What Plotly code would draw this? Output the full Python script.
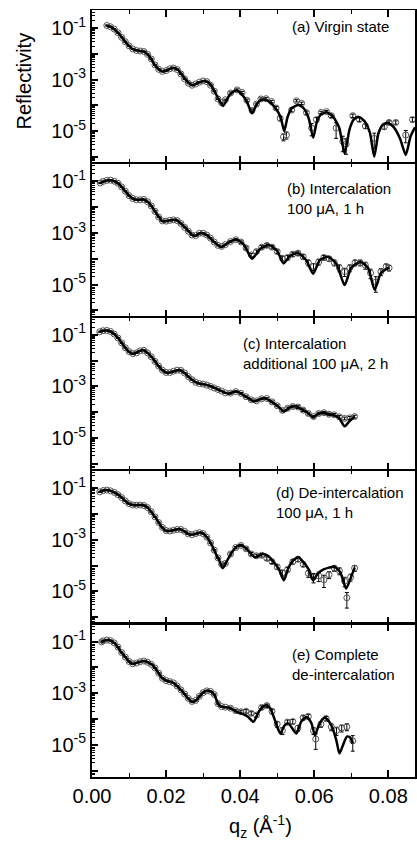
import plotly.graph_objects as go
from plotly.subplots import make_subplots

# ---------------- data (log10 reflectivity) ----------------
panel_labels = ["(a) Virgin state",
                "(b) Intercalation<br>100 μA, 1 h",
                "(c) Intercalation<br>additional 100 μA, 2 h",
                "(d) De-intercalation<br>100 μA, 1 h",
                "(e) Complete<br>de-intercalation"]

# ----- panel (a)
fit_q_a = [0.0039, 0.0050, 0.0060, 0.0075, 0.0093, 0.0110, 0.0129, 0.0142, 0.0155, 0.0173, 0.0191, 0.0205, 0.0218,
           0.0232, 0.0254, 0.0271, 0.0287, 0.0303, 0.0318, 0.0334, 0.0354, 0.0372, 0.0389, 0.0405, 0.0418, 0.0432,
           0.0445, 0.0455, 0.0466, 0.0480, 0.0500, 0.0510, 0.0519, 0.0528, 0.0540, 0.0557, 0.0572, 0.0585, 0.0597,
           0.0607, 0.0618, 0.0633, 0.0650, 0.0667, 0.0682, 0.0695, 0.0705, 0.0718, 0.0735, 0.0750, 0.0762, 0.0773,
           0.0785, 0.0798, 0.0815, 0.0832, 0.0847, 0.0860, 0.0872]
fit_lr_a = [-0.91, -0.95, -1.05, -1.26, -1.59, -1.82, -1.89, -1.92, -2.10, -2.50, -2.69, -2.62, -2.54,
            -2.62, -3.02, -3.22, -3.12, -3.05, -3.15, -3.54, -4.02, -3.58, -3.41, -3.58, -3.85, -4.31,
            -3.95, -3.80, -3.77, -3.88, -4.20, -4.50, -5.00, -4.45, -4.10, -3.98, -4.12, -4.50, -5.25,
            -4.65, -4.35, -4.27, -4.42, -4.85, -5.86, -4.95, -4.58, -4.44, -4.60, -5.05, -5.99, -5.10,
            -4.75, -4.67, -4.85, -5.30, -5.92, -5.20, -4.85]
dat_q_a = [0.004, 0.005, 0.006, 0.007, 0.008, 0.009, 0.010, 0.011, 0.012, 0.013, 0.014, 0.015, 0.016, 0.017,
           0.018, 0.019, 0.020, 0.021, 0.022, 0.023, 0.024, 0.025, 0.026, 0.027, 0.028, 0.029, 0.030, 0.031,
           0.032, 0.033, 0.034, 0.035, 0.036, 0.0374, 0.0392, 0.0405, 0.0418, 0.0432, 0.0444, 0.0456, 0.0470,
           0.0485, 0.0497, 0.0508, 0.0517, 0.0525, 0.0539, 0.0552, 0.0566, 0.0579, 0.0593, 0.0606, 0.0619,
           0.0633, 0.0646, 0.0659, 0.0677, 0.0686, 0.0704, 0.0722, 0.0738, 0.0762, 0.0789, 0.0802, 0.0820,
           0.0847, 0.0865]
dat_lr_a = [-0.90, -0.95, -1.04, -1.18, -1.36, -1.53, -1.69, -1.81, -1.87, -1.89, -1.91, -2.02, -2.20, -2.43,
            -2.60, -2.68, -2.65, -2.58, -2.55, -2.61, -2.78, -2.97, -3.14, -3.22, -3.17, -3.10, -3.05, -3.08,
            -3.22, -3.45, -3.75, -3.90, -3.78, -3.52, -3.40, -3.50, -3.80, -4.20, -3.95, -3.75, -3.74,
            -3.85, -4.10, -4.50, -5.22, -5.15, -4.18, -3.82, -3.92, -4.28, -4.88, -4.55, -4.27,
            -4.24, -4.40, -4.88, -5.40, -5.50, -4.40, -4.55, -4.80, -5.28, -4.83, -4.66, -4.66,
            -5.15, -4.55]
dat_e_a = [0.05] * 33 + [0.1, 0.1, 0.1, 0.1, 0.15, 0.1, 0.1, 0.1, 0.1, 0.15, 0.2, 0.3, 0.3, 0.15, 0.1, 0.1,
                         0.15, 0.5, 0.2, 0.1, 0.1, 0.15, 0.6, 0.6, 0.6, 0.15, 0.15, 0.2, 0.6, 0.2, 0.15, 0.15,
                         0.5, 0.2]

# ----- panel (b)
fit_q_b = [0.0022, 0.0035, 0.0048, 0.0060, 0.0075, 0.0090, 0.0102, 0.0115, 0.0128, 0.0140, 0.0155, 0.0173,
           0.0191, 0.0209, 0.0227, 0.0249, 0.0276, 0.0294, 0.0310, 0.0330, 0.0349, 0.0370, 0.0390, 0.0410,
           0.0432, 0.0455, 0.0478, 0.0500, 0.0517, 0.0535, 0.0557, 0.0578, 0.0597, 0.0615, 0.0637, 0.0660,
           0.0682, 0.0700, 0.0725, 0.0745, 0.0763, 0.0780, 0.0802]
fit_lr_b = [-1.07, -0.98, -0.95, -0.99, -1.13, -1.38, -1.58, -1.70, -1.71, -1.70, -1.85, -2.22,
            -2.55, -2.51, -2.49, -2.75, -3.12, -3.00, -3.08, -3.35, -3.55, -3.35, -3.25, -3.45,
            -4.00, -3.60, -3.47, -3.70, -4.18, -3.88, -3.78, -4.05, -4.58, -4.05, -3.92, -4.20,
            -5.02, -4.35, -4.12, -4.35, -5.20, -4.55, -4.33]
dat_q_b = [0.0022, 0.003, 0.004, 0.005, 0.006, 0.007, 0.008, 0.009, 0.010, 0.011, 0.012, 0.013, 0.014, 0.015,
           0.016, 0.017, 0.018, 0.019, 0.020, 0.021, 0.022, 0.023, 0.024, 0.025, 0.026, 0.027, 0.028, 0.029,
           0.030, 0.031, 0.032, 0.033, 0.034, 0.035, 0.036, 0.0374, 0.0388, 0.0402, 0.0416, 0.0430, 0.0444,
           0.0458, 0.0472, 0.0486, 0.0500, 0.0514, 0.0528, 0.0542, 0.0556, 0.0570, 0.0584, 0.0598, 0.0612,
           0.0626, 0.0640, 0.0654, 0.0668, 0.0682, 0.0696, 0.0710, 0.0724, 0.0738, 0.0752, 0.0766, 0.0780,
           0.0794, 0.0802]
dat_lr_b = [-1.06, -1.00, -0.96, -0.95, -0.99, -1.07, -1.21, -1.38, -1.55, -1.66, -1.71, -1.71, -1.70, -1.79,
            -1.95, -2.16, -2.38, -2.53, -2.54, -2.51, -2.49, -2.52, -2.63, -2.78, -2.93, -3.08, -3.10, -3.01,
            -3.01, -3.08, -3.20, -3.35, -3.48, -3.52, -3.45, -3.33, -3.26, -3.35, -3.58, -3.85, -3.72,
            -3.55, -3.48, -3.55, -3.72, -3.98, -3.95, -3.82, -3.78, -3.92, -4.15, -4.30, -4.12,
            -3.95, -4.00, -4.15, -4.35, -4.50, -4.35, -4.15, -4.15, -4.25, -4.55, -4.90, -4.50,
            -4.30, -4.35]
dat_e_b = [0.05] * 35 + [0.1, 0.1, 0.1, 0.1, 0.15, 0.15, 0.15, 0.15, 0.15, 0.15, 0.2, 0.2, 0.2, 0.2, 0.2,
                         0.25, 0.3, 0.25, 0.2, 0.2, 0.25, 0.3, 0.35, 0.3, 0.25, 0.25, 0.3, 0.4, 0.6, 0.3,
                         0.25, 0.25]

# ----- panel (c)
fit_q_c = [0.0021, 0.0030, 0.0040, 0.0050, 0.0060, 0.0072, 0.0084, 0.0097, 0.0111, 0.0125, 0.0138, 0.0150,
           0.0164, 0.0178, 0.0191, 0.0204, 0.0220, 0.0236, 0.0250, 0.0263, 0.0278, 0.0289, 0.0303, 0.0316,
           0.0330, 0.0345, 0.0358, 0.0369, 0.0382, 0.0396, 0.0410, 0.0425, 0.0436, 0.0450, 0.0465, 0.0480,
           0.0500, 0.0518, 0.0535, 0.0550, 0.0565, 0.0582, 0.0597, 0.0610, 0.0624, 0.0640, 0.0655, 0.0668,
           0.0682, 0.0695, 0.0709]
fit_lr_c = [-0.88, -0.84, -0.83, -0.87, -0.97, -1.15, -1.39, -1.62, -1.74, -1.65, -1.59, -1.70,
            -1.91, -2.18, -2.38, -2.48, -2.42, -2.36, -2.48, -2.66, -2.82, -2.89, -2.92, -2.97,
            -3.05, -3.15, -3.24, -3.28, -3.22, -3.22, -3.35, -3.48, -3.58, -3.52, -3.46, -3.55,
            -3.75, -3.97, -3.80, -3.77, -3.88, -4.02, -4.20, -4.07, -4.02, -4.08, -4.12, -4.25,
            -4.55, -4.35, -4.18]
dat_q_c = [0.0021, 0.003, 0.004, 0.005, 0.006, 0.007, 0.008, 0.009, 0.010, 0.011, 0.012, 0.013, 0.014, 0.015,
           0.016, 0.017, 0.018, 0.019, 0.020, 0.021, 0.022, 0.023, 0.024, 0.025, 0.026, 0.027, 0.028, 0.029,
           0.030, 0.031, 0.032, 0.033, 0.034, 0.035, 0.036, 0.0374, 0.0388, 0.0402, 0.0416, 0.0430, 0.0444,
           0.0458, 0.0472, 0.0486, 0.0500, 0.0514, 0.0528, 0.0542, 0.0556, 0.0570, 0.0584, 0.0598, 0.0612,
           0.0626, 0.0640, 0.0654, 0.0668, 0.0682, 0.0696, 0.0709]
dat_lr_c = [-0.88, -0.84, -0.83, -0.87, -0.97, -1.12, -1.31, -1.50, -1.65, -1.73, -1.70, -1.62, -1.60, -1.70,
            -1.85, -2.03, -2.21, -2.37, -2.46, -2.46, -2.41, -2.37, -2.38, -2.48, -2.62, -2.74, -2.84, -2.89,
            -2.91, -2.95, -3.00, -3.06, -3.12, -3.18, -3.25, -3.26, -3.20, -3.27, -3.40, -3.52, -3.56,
            -3.48, -3.47, -3.60, -3.75, -3.93, -3.85, -3.78, -3.80, -3.92, -4.05, -4.17, -4.05,
            -4.02, -4.08, -4.10, -4.18, -4.24, -4.22, -4.17]
dat_e_c = [0.05] * 35 + [0.08] * 10 + [0.12] * 15

# ----- panel (d)
fit_q_d = [0.0021, 0.0030, 0.0039, 0.0050, 0.0066, 0.0080, 0.0093, 0.0105, 0.0115, 0.0127, 0.0138, 0.0150,
           0.0160, 0.0172, 0.0182, 0.0191, 0.0200, 0.0215, 0.0236, 0.0250, 0.0263, 0.0278, 0.0294, 0.0305,
           0.0316, 0.0325, 0.0334, 0.0345, 0.0353, 0.0365, 0.0379, 0.0392, 0.0401, 0.0415, 0.0430, 0.0440,
           0.0450, 0.0460, 0.0475, 0.0490, 0.0505, 0.0518, 0.0530, 0.0543, 0.0557, 0.0570, 0.0585, 0.0597,
           0.0610, 0.0625, 0.0640, 0.0655, 0.0670, 0.0686, 0.0698, 0.0709]
fit_lr_d = [-1.14, -1.09, -1.07, -1.10, -1.21, -1.36, -1.53, -1.63, -1.66, -1.65, -1.65, -1.75,
            -1.92, -2.15, -2.37, -2.55, -2.66, -2.64, -2.58, -2.68, -2.80, -2.78, -2.72, -2.82,
            -3.02, -3.25, -3.53, -3.85, -4.10, -3.80, -3.45, -3.25, -3.20, -3.32, -3.55, -3.68,
            -3.62, -3.55, -3.62, -3.85, -4.15, -4.57, -4.10, -3.80, -3.68, -3.85, -4.15, -4.57,
            -4.30, -4.15, -4.08, -4.05, -4.25, -4.89, -4.50, -4.08]
dat_q_d = [0.0021, 0.003, 0.004, 0.005, 0.006, 0.007, 0.008, 0.009, 0.010, 0.011, 0.012, 0.013, 0.014, 0.015,
           0.016, 0.017, 0.018, 0.019, 0.020, 0.021, 0.022, 0.023, 0.024, 0.025, 0.026, 0.027, 0.028, 0.029,
           0.030, 0.031, 0.032, 0.033, 0.034, 0.035, 0.036, 0.0374, 0.0388, 0.0402, 0.0416, 0.0430, 0.0444,
           0.0458, 0.0472, 0.0486, 0.0500, 0.0514, 0.0528, 0.0542, 0.0556, 0.0570, 0.0584, 0.0598, 0.0612,
           0.0626, 0.0640, 0.0654, 0.0668, 0.0682, 0.0688, 0.0698, 0.0709]
dat_lr_d = [-1.14, -1.09, -1.07, -1.10, -1.16, -1.25, -1.36, -1.49, -1.60, -1.65, -1.66, -1.65, -1.67, -1.75,
            -1.91, -2.11, -2.33, -2.52, -2.64, -2.66, -2.63, -2.60, -2.60, -2.67, -2.77, -2.80, -2.76, -2.72,
            -2.76, -2.90, -3.12, -3.40, -3.70, -3.95, -3.92, -3.55, -3.30, -3.22, -3.35, -3.55, -3.62,
            -3.60, -3.72, -3.85, -4.05, -4.28, -4.15, -3.85, -3.75, -3.95, -4.30, -4.45, -4.40,
            -4.55, -4.35, -4.10, -4.20, -4.60, -5.25, -4.45, -4.10]
dat_e_d = [0.05] * 35 + [0.1, 0.1, 0.1, 0.1, 0.15, 0.15, 0.15, 0.15, 0.15, 0.2, 0.25, 0.2, 0.2, 0.2, 0.2,
                         0.3, 0.4, 0.4, 0.5, 0.3, 0.25, 0.3, 0.4, 0.6, 0.3, 0.25]

# ----- panel (e)
fit_q_e = [0.0026, 0.0035, 0.0045, 0.0055, 0.0065, 0.0075, 0.0084, 0.0093, 0.0102, 0.0110, 0.0125, 0.0142,
           0.0155, 0.0164, 0.0175, 0.0187, 0.0196, 0.0204, 0.0213, 0.0222, 0.0235, 0.0245, 0.0258, 0.0271,
           0.0283, 0.0294, 0.0305, 0.0314, 0.0322, 0.0330, 0.0337, 0.0343, 0.0352, 0.0370, 0.0390, 0.0405,
           0.0420, 0.0436, 0.0450, 0.0462, 0.0472, 0.0482, 0.0495, 0.0508, 0.0520, 0.0530, 0.0540, 0.0552,
           0.0565, 0.0579, 0.0592, 0.0602, 0.0612, 0.0624, 0.0633, 0.0648, 0.0660, 0.0668, 0.0678, 0.0688,
           0.0697, 0.0704]
fit_lr_e = [-1.01, -0.95, -0.94, -1.00, -1.12, -1.33, -1.50, -1.65, -1.80, -1.87, -1.80, -1.75,
            -1.83, -1.91, -2.12, -2.37, -2.48, -2.53, -2.56, -2.62, -2.80, -2.95, -3.18, -3.34,
            -3.25, -3.06, -2.93, -2.90, -2.95, -3.05, -3.30, -3.47, -3.53, -3.56, -3.72, -3.79,
            -3.90, -4.11, -3.72, -3.52, -3.47, -3.60, -4.10, -4.56, -4.25, -4.17, -4.35, -4.56,
            -4.10, -3.92, -4.15, -4.63, -4.25, -3.98, -3.98, -4.30, -4.85, -5.34, -5.00, -4.68,
            -4.72, -4.95]
dat_q_e = [0.0026, 0.003, 0.004, 0.005, 0.006, 0.007, 0.008, 0.009, 0.010, 0.011, 0.012, 0.013, 0.014, 0.015,
           0.016, 0.017, 0.018, 0.019, 0.020, 0.021, 0.022, 0.023, 0.024, 0.025, 0.026, 0.027, 0.028, 0.029,
           0.030, 0.031, 0.032, 0.033, 0.034, 0.035, 0.036, 0.0374, 0.0388, 0.0402, 0.0416, 0.0430, 0.0444,
           0.0458, 0.0472, 0.0486, 0.0500, 0.0514, 0.0528, 0.0542, 0.0556, 0.0570, 0.0584, 0.0598, 0.0604,
           0.0618, 0.0632, 0.0646, 0.0660, 0.0674, 0.0688, 0.0704]
dat_lr_e = [-1.01, -0.97, -0.94, -0.96, -1.05, -1.21, -1.42, -1.60, -1.77, -1.86, -1.83, -1.78, -1.75, -1.80,
            -1.88, -2.02, -2.22, -2.42, -2.51, -2.55, -2.60, -2.72, -2.87, -3.03, -3.20, -3.32, -3.28, -3.12,
            -2.98, -2.91, -2.93, -3.05, -3.40, -3.52, -3.54, -3.58, -3.68, -3.72, -3.70, -3.78, -3.85,
            -3.55, -3.48, -3.70, -4.20, -4.45, -4.12, -4.10, -4.35, -3.95, -3.90, -4.45, -4.78,
            -4.20, -3.98, -4.30, -4.45, -4.35, -4.30, -4.85]
dat_e_e = [0.05] * 35 + [0.1, 0.1, 0.15, 0.15, 0.15, 0.15, 0.15, 0.15, 0.2, 0.25, 0.3, 0.2, 0.2, 0.25, 0.2,
                         0.2, 0.3, 0.6, 0.25, 0.2, 0.3, 0.35, 0.3, 0.3, 0.6]

fits = [(fit_q_a, fit_lr_a), (fit_q_b, fit_lr_b), (fit_q_c, fit_lr_c), (fit_q_d, fit_lr_d), (fit_q_e, fit_lr_e)]
datas = [(dat_q_a, dat_lr_a, dat_e_a), (dat_q_b, dat_lr_b, dat_e_b), (dat_q_c, dat_lr_c, dat_e_c),
         (dat_q_d, dat_lr_d, dat_e_d), (dat_q_e, dat_lr_e, dat_e_e)]

y_tickvals = [1e-1, 1e-2, 1e-3, 1e-4, 1e-5, 1e-6]
y_ticktext = ["10<sup>-1</sup>", " ", "10<sup>-3</sup>", " ", "10<sup>-5</sup>", " "]
x_tickvals = [0.00, 0.02, 0.04, 0.06, 0.08]
x_ticktext = ["0.00", "0.02", "0.04", "0.06", "0.08"]

FONT = "Arial, 'Liberation Sans', sans-serif"

fig = make_subplots(rows=5, cols=1, shared_xaxes=True, vertical_spacing=0)

for i in range(5):
    dq, dlr, de = datas[i]
    R = [10 ** v for v in dlr]
    err = [r * e for r, e in zip(R, de)]
    fig.add_trace(go.Scatter(
        x=dq, y=R, mode="markers",
        marker=dict(symbol="circle-open", size=6, color="#555555", line=dict(width=1)),
        error_y=dict(type="data", array=err, visible=True, color="black", thickness=1, width=2),
        showlegend=False), row=i + 1, col=1)
    fq, flr = fits[i]
    fig.add_trace(go.Scatter(
        x=fq, y=[10 ** v for v in flr], mode="lines",
        line=dict(color="black", width=2.5, shape="spline", smoothing=0.6),
        showlegend=False), row=i + 1, col=1)

for i in range(5):
    bottom = (i == 4)
    fig.update_yaxes(type="log", range=[-6.25, -0.3], tickmode="array", tickvals=y_tickvals,
                     ticktext=y_ticktext, ticks="inside", ticklen=6, tickwidth=1.5, tickcolor="black",
                     showline=True, linewidth=2, linecolor="black", mirror=True,
                     showgrid=False, zeroline=False,
                     minor=dict(ticks="inside", ticklen=3, tickwidth=1, tickcolor="black", dtick="D1",
                                showgrid=False),
                     tickfont=dict(family=FONT, size=20, color="black"),
                     row=i + 1, col=1)
    fig.update_xaxes(range=[0, 0.0872], tickmode="array", tickvals=x_tickvals, ticktext=x_ticktext,
                     ticks="inside", ticklen=7, tickwidth=1.5, tickcolor="black",
                     showline=True, linewidth=(2 if bottom else 1.1), linecolor="black", mirror="ticks",
                     showgrid=False, zeroline=False,
                     minor=dict(ticks="inside", ticklen=4, tickwidth=1.2, tickcolor="black",
                                tickvals=[0.01, 0.03, 0.05, 0.07], showgrid=False),
                     showticklabels=bottom,
                     tickfont=dict(family=FONT, size=20, color="black"),
                     row=i + 1, col=1)

annotations = [
    dict(text="Reflectivity", x=-0.209, y=0.9074, xref="paper", yref="paper", textangle=-90,
         showarrow=False, xanchor="center", yanchor="middle", font=dict(family=FONT, size=20, color="black")),
    dict(text="q<sub>z</sub> (Å<sup>-1</sup>)", x=0.523, y=-0.064, xref="paper", yref="paper",
         showarrow=False, xanchor="center", yanchor="middle", font=dict(family=FONT, size=20, color="black")),
    dict(text=panel_labels[0], x=0.926, y=0.978, xref="paper", yref="paper", showarrow=False,
         xanchor="right", yanchor="middle", font=dict(family=FONT, size=15, color="black")),
    dict(text=panel_labels[1], x=0.597, y=0.7536, xref="paper", yref="paper", showarrow=False, align="left",
         xanchor="left", yanchor="middle", font=dict(family=FONT, size=15, color="black")),
    dict(text=panel_labels[2], x=0.4615, y=0.552, xref="paper", yref="paper", showarrow=False, align="left",
         xanchor="left", yanchor="middle", font=dict(family=FONT, size=15, color="black")),
    dict(text=panel_labels[3], x=0.563, y=0.358, xref="paper", yref="paper", showarrow=False, align="left",
         xanchor="left", yanchor="middle", font=dict(family=FONT, size=15, color="black")),
    dict(text=panel_labels[4], x=0.612, y=0.147, xref="paper", yref="paper", showarrow=False, align="left",
         xanchor="left", yanchor="middle", font=dict(family=FONT, size=15, color="black")),
]

fig.update_layout(width=417, height=841, margin=dict(l=92, r=0, t=10, b=64),
                  paper_bgcolor="white", plot_bgcolor="white", annotations=annotations,
                  font=dict(family=FONT, color="black"))

fig.write_html("out.html")
